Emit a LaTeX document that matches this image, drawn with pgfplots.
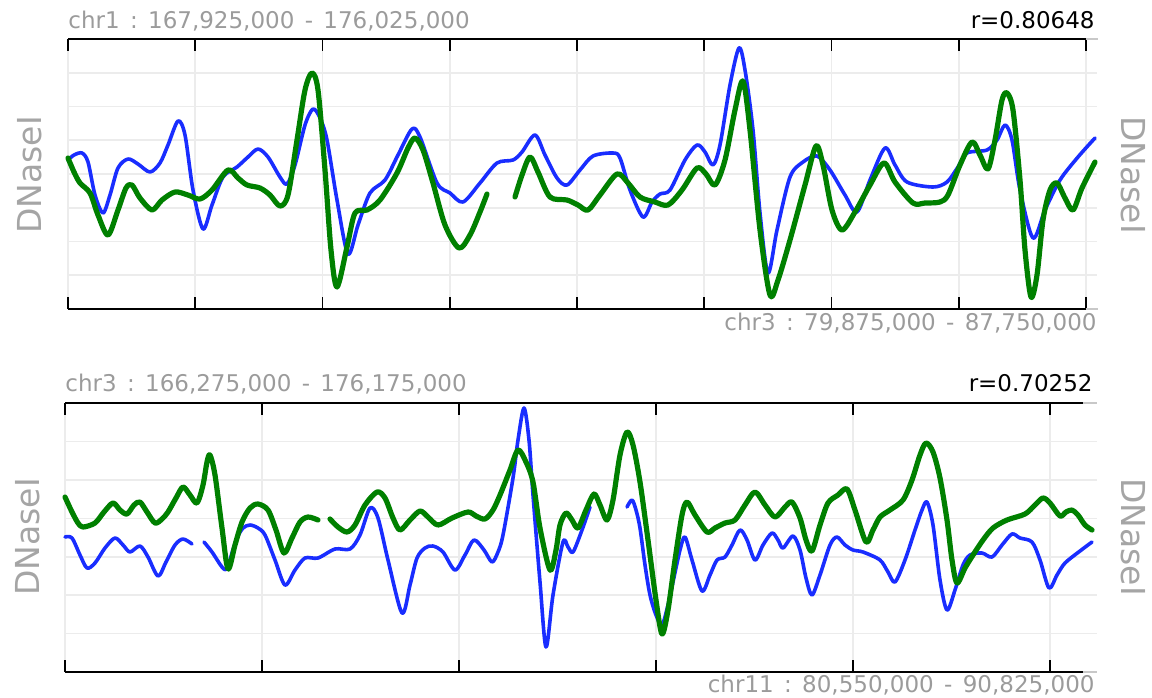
\documentclass[border=0pt]{standalone}
\usepackage{pgfplots}
\pgfplotsset{compat=1.18}
\usepackage{fontspec}
\setmainfont{DejaVu Sans}
\definecolor{cblue}{RGB}{25,45,255}
\definecolor{cgreen}{RGB}{0,128,0}
\definecolor{lgray}{RGB}{155,155,155}
\definecolor{ygray}{RGB}{165,165,165}
\definecolor{gridc}{RGB}{236,236,236}
\definecolor{stubc}{RGB}{200,200,200}
\newcommand{\gsp}{\hspace{0.45em}}
\pgfplotsset{
 trackaxis/.style={
   scale only axis, anchor=north west,
   y dir=reverse, clip=false,
   axis line style={draw=none},
   xticklabels={}, yticklabels={},
   tick align=inside,
   major tick length=6pt,
   xtick style={black, line width=0.8pt},
   ytick style={draw=none},
   grid=major,
   major grid style={gridc, line width=0.8pt},
 },
 bl/.style={cblue, line width=1.8pt, smooth, tension=0.5, line cap=round, line join=round},
 gr/.style={cgreen, line width=2.6pt, smooth, tension=0.5, line cap=round, line join=round},
}
\begin{document}
\begin{tikzpicture}
\path[use as bounding box] (0pt,0pt) rectangle (576pt,-348.5pt);
% ---------------- top panel ----------------
\begin{axis}[trackaxis, at={(34pt,-19.5pt)}, width=514.5pt, height=135pt,
  xmin=68, xmax=1097, ymin=39, ymax=309,
  xtick={68,195.25,322.5,449.75,577,704.25,831.5,958.75,1086},
  ytick={72.75,106.5,140.25,174,207.75,241.5,275.25}]
\addplot[bl] coordinates {(68,160) (74,155) (82,153) (88,162) (95,195) (103,213) (110,195) (118,168) (128,159) (138,164) (150,172) (160,163) (168,145) (178,121) (185,135) (193,190) (203,229) (212,205) (223,177) (237,167) (248,157) (258,149) (268,157) (280,177) (287,184) (295,165) (305,125) (313,109) (320,118) (327,140) (337,200) (348,254) (358,225) (370,193) (385,180) (398,155) (412,129) (420,137) (437,183) (450,193) (463,202) (480,183) (497,163) (513,160) (522,152) (535,135) (545,155) (557,178) (567,185) (580,170) (593,156) (613,153) (620,158) (630,190) (643,217) (652,202) (660,194) (670,190) (685,160) (697,145) (705,152) (713,165) (720,145) (730,85) (739,48) (745,70) (753,130) (760,213) (768,273) (777,230) (790,177) (803,162) (817,156) (830,170) (845,195) (857,212) (870,180) (885,148) (895,165) (907,182) (933,187) (947,182) (958,167) (967,153) (987,150) (997,140) (1005,125) (1012,140) (1020,190) (1033,238) (1045,210) (1060,180) (1078,157) (1095,138)};
\addplot[gr] coordinates {(68,158) (74,172) (80,183) (90,193) (98,215) (108,235) (118,210) (126,188) (132,185) (140,198) (152,210) (162,200) (175,192) (188,195) (200,199) (212,190) (228,170) (238,178) (247,185) (260,188) (270,195) (280,206) (288,195) (297,140) (305,90) (312,73) (318,90) (325,170) (331,250) (337,287) (347,247) (355,213) (367,210) (380,200) (397,173) (408,148) (415,138) (423,150) (433,183) (445,225) (459,248) (470,235) (480,212) (487,194)};
\addplot[gr] coordinates {(515,197) (522,175) (530,157) (538,172) (550,197) (567,200) (578,205) (588,210) (600,195) (617,174) (628,183) (640,197) (655,202) (668,205) (682,190) (697,168) (706,174) (715,185) (725,160) (735,110) (743,81) (750,130) (760,230) (770,295) (778,280) (790,240) (805,185) (816,146) (823,165) (832,210) (842,230) (855,212) (870,185) (884,163) (895,182) (913,203) (925,203) (940,202) (948,195) (960,165) (972,142) (980,155) (988,169) (995,140) (1002,100) (1007,93) (1013,110) (1020,180) (1025,250) (1031,297) (1037,275) (1043,220) (1050,190) (1057,183) (1065,198) (1073,210) (1082,188) (1095,162)};
\draw[black, line width=1.4pt] (axis cs:68,39) -- (axis cs:1086,39);
\draw[black, line width=1.4pt] (axis cs:68,309) -- (axis cs:1086,309);
\draw[stubc, line width=1.4pt] (axis cs:1086,39) -- (axis cs:1098,39);
\draw[stubc, line width=1.4pt] (axis cs:1086,309) -- (axis cs:1098,309);
\end{axis}
% ---------------- bottom panel ----------------
\begin{axis}[trackaxis, at={(32.5pt,-201.5pt)}, width=516pt, height=134.5pt,
  xmin=65, xmax=1097, ymin=403, ymax=672,
  xtick={65,262,459,656,853,1050},
  ytick={441.43,479.86,518.29,556.71,595.14,633.57}]
\addplot[bl] coordinates {(65,537) (72,538) (80,555) (87,568) (95,563) (105,548) (115,538) (123,545) (130,552) (140,546) (148,557) (158,576) (166,562) (175,545) (183,539) (192,544)};
\addplot[bl] coordinates {(204,542) (212,552) (222,567) (227,569) (232,553) (237,538) (243,528) (250,525) (258,528) (265,535) (275,560) (285,585) (295,570) (305,558) (318,558) (335,549) (350,549) (360,535) (370,508) (378,518) (388,560) (402,613) (410,585) (417,558) (425,548) (433,546) (443,552) (455,570) (465,555) (474,540) (484,550) (492,562) (498,552) (503,535) (513,478) (518,440) (524,408) (529,440) (533,495) (540,582) (546,647) (553,595) (563,542) (568,547) (573,552) (582,530) (590,507)};
\addplot[bl] coordinates {(627,507) (632,500) (636,510) (640,528) (645,565) (650,595) (656,615) (662,625) (668,605) (673,582) (680,550) (685,537) (692,560) (702,591) (710,575) (717,560) (725,557) (732,545) (740,530) (747,540) (755,560) (763,545) (772,533) (778,540) (783,548) (793,536) (800,550) (806,578) (812,595) (820,575) (830,545) (837,537) (845,545) (853,550) (863,552) (880,560) (888,572) (895,582) (905,560) (915,530) (922,510) (927,502) (933,525) (940,580) (947,610) (955,590) (963,565) (970,555) (982,553) (992,557) (1002,545) (1012,534) (1020,538) (1032,542) (1040,560) (1049,588) (1057,575) (1065,563) (1080,551) (1092,542)};
\addplot[gr] coordinates {(65,497) (72,512) (78,523) (83,527) (95,523) (104,512) (113,503) (120,510) (127,514) (134,505) (140,502) (147,512) (155,523) (162,519) (168,512) (176,498) (183,487) (190,495) (197,503) (203,485) (207,462) (210,455) (215,475) (222,528) (228,569) (235,545) (242,522) (250,508) (258,504) (268,510) (276,530) (284,553) (292,538) (300,522) (308,517) (318,520)};
\addplot[gr] coordinates {(330,519) (338,527) (347,532) (355,525) (365,505) (377,492) (385,498) (393,518) (400,530) (410,520) (420,511) (428,517) (438,525) (452,518) (468,512) (476,516) (485,519) (493,510) (500,495) (510,470) (518,450) (526,462) (533,482) (540,528) (550,570) (556,550) (560,525) (566,513) (572,520) (578,528) (586,510) (594,494) (600,505) (607,520) (613,500) (620,455) (627,432) (633,445) (640,482) (648,540) (656,600) (662,634) (668,610) (675,560) (682,515) (687,502) (695,515) (707,532) (715,528) (725,523) (735,520) (745,505) (755,492) (765,505) (775,517) (785,507) (792,502) (800,518) (806,540) (812,551) (820,525) (828,503) (838,495) (847,489) (855,510) (866,542) (873,530) (880,517) (890,510) (903,500) (912,480) (920,455) (926,443) (933,452) (940,478) (947,520) (952,560) (957,583) (965,568) (973,555) (983,540) (993,528) (1007,520) (1025,514) (1035,505) (1043,498) (1050,503) (1060,516) (1066,512) (1072,510) (1078,515) (1085,525) (1092,530)};
\draw[black, line width=1.4pt] (axis cs:65,403) -- (axis cs:1083,403);
\draw[black, line width=1.4pt] (axis cs:65,672) -- (axis cs:1083,672);
\draw[stubc, line width=1.4pt] (axis cs:1083,403) -- (axis cs:1097,403);
\draw[stubc, line width=1.4pt] (axis cs:1083,672) -- (axis cs:1097,672);
\end{axis}
% ---------------- texts ----------------
\node[anchor=base west, lgray, inner sep=0pt, font=\fontsize{11.5}{13}\selectfont] at (34pt,-14pt) {chr1\gsp:\gsp167,925,000\gsp-\gsp176,025,000};
\node[anchor=base east, black, inner sep=0pt, font=\fontsize{11.5}{13}\selectfont] at (547.5pt,-14pt) {r=0.80648};
\node[anchor=base east, lgray, inner sep=0pt, font=\fontsize{11.5}{13}\selectfont] at (548.5pt,-165pt) {chr3\gsp:\gsp79,875,000\gsp-\gsp87,750,000};
\node[anchor=base west, lgray, inner sep=0pt, font=\fontsize{11.5}{13}\selectfont] at (32.5pt,-195.5pt) {chr3\gsp:\gsp166,275,000\gsp-\gsp176,175,000};
\node[anchor=base east, black, inner sep=0pt, font=\fontsize{11.5}{13}\selectfont] at (546.5pt,-195.5pt) {r=0.70252};
\node[anchor=base east, lgray, inner sep=0pt, font=\fontsize{11.5}{13}\selectfont] at (547.5pt,-346pt) {chr11\gsp:\gsp80,550,000\gsp-\gsp90,825,000};
\node[rotate=90, ygray, inner sep=0pt, font=\fontsize{16.5}{19}\selectfont] at (15pt,-87.5pt) {DNaseI};
\node[rotate=-90, ygray, inner sep=0pt, font=\fontsize{16.5}{19}\selectfont] at (566.5pt,-87.5pt) {DNaseI};
\node[rotate=90, ygray, inner sep=0pt, font=\fontsize{16.5}{19}\selectfont] at (14pt,-268.5pt) {DNaseI};
\node[rotate=-90, ygray, inner sep=0pt, font=\fontsize{16.5}{19}\selectfont] at (566.5pt,-268.5pt) {DNaseI};
\end{tikzpicture}
\end{document}
